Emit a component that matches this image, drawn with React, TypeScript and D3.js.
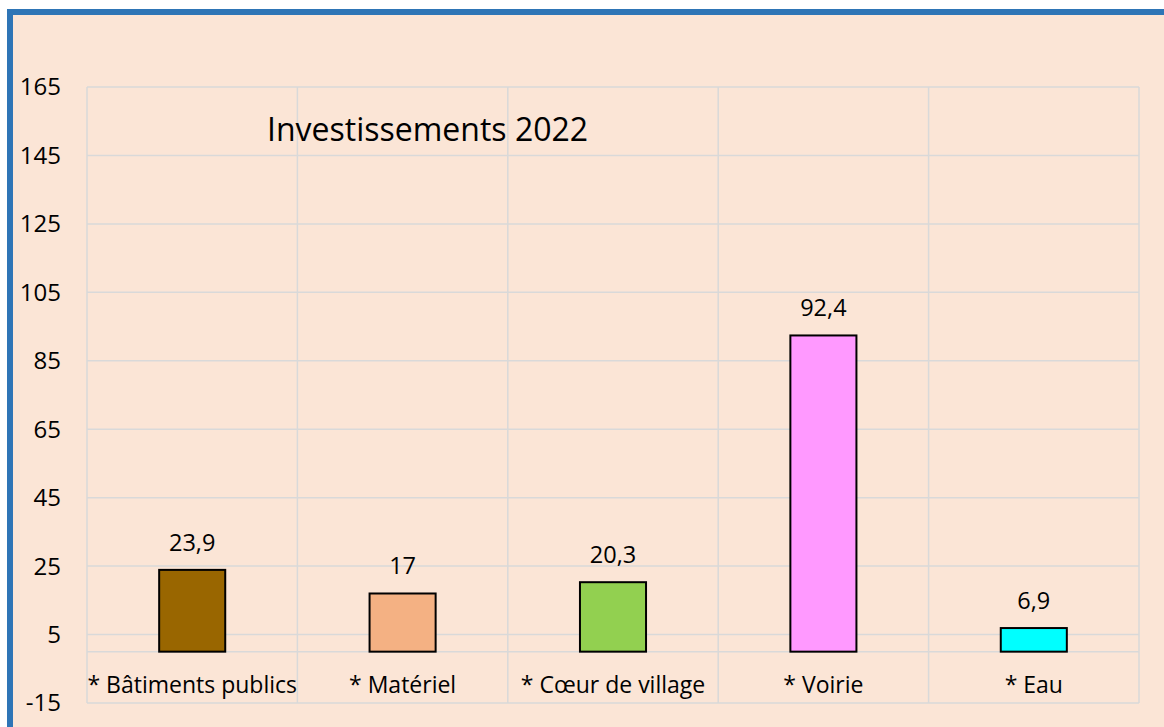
import React from "react";
import * as d3 from "d3";

const categories = ["* Bâtiments publics", "* Matériel", "* Cœur de village", "* Voirie", "* Eau"];
const values = [23.9, 17, 20.3, 92.4, 6.9];
const valueLabels = ["23,9", "17", "20,3", "92,4", "6,9"];
const barColors = ["#996600", "#F4B183", "#92D050", "#FF99FF", "#00FFFF"];
const yTicks = [-15, 5, 25, 45, 65, 85, 105, 125, 145, 165];
const title = "Investissements 2022";

const W = 1164;
const H = 727;
const FONT = "'Open Sans', sans-serif";

export default function App() {
  const left = 87, right = 1139, top = 87, bottom = 703;
  const x = d3.scaleBand<string>().domain(categories).range([left, right]).padding(0);
  const y = d3.scaleLinear().domain([-15, 165]).range([bottom, top]);
  const bw = x.bandwidth() * 0.314;
  const grid = "#D9D9D9";

  return (
    <svg width={W} height={H} style={{ position: "absolute", left: 0, top: 0 }}>
      <rect x={0} y={0} width={W} height={H} fill="#ffffff" />
      <rect x={10} y={12} width={1300} height={900} fill="#FBE5D6" stroke="#2E75B6" strokeWidth={6} />
      {yTicks.map((t) => (
        <line key={"g" + t} x1={left} x2={right} y1={y(t)} y2={y(t)} stroke={grid} strokeWidth={1.5} />
      ))}
      <line x1={left} x2={right} y1={y(0)} y2={y(0)} stroke={grid} strokeWidth={1.5} />
      {[...categories.map((c) => x(c)!), right].map((xv, i) => (
        <line key={"v" + i} x1={xv} x2={xv} y1={top} y2={bottom} stroke={grid} strokeWidth={1.5} />
      ))}
      {yTicks.map((t) => (
        <text key={"t" + t} x={61} y={y(t)} dy="0.35em" textAnchor="end" fontFamily={FONT} fontSize={24} fill="#000">
          {t}
        </text>
      ))}
      {categories.map((c, i) => {
        const cx = x(c)! + x.bandwidth() / 2;
        const y0 = y(0);
        const y1 = y(values[i]);
        return (
          <g key={c}>
            <rect x={cx - bw / 2} y={y1} width={bw} height={y0 - y1} fill={barColors[i]} stroke="#000" strokeWidth={2} />
            <text x={cx} y={y1 - 19} textAnchor="middle" fontFamily={FONT} fontSize={23.5} fill="#000">
              {valueLabels[i]}
            </text>
            <text x={cx} y={693} textAnchor="middle" fontFamily={FONT} fontSize={23} fill="#000">
              {c}
            </text>
          </g>
        );
      })}
      <text x={267} y={141} fontFamily={FONT} fontSize={32} fill="#000">
        {title}
      </text>
    </svg>
  );
}
